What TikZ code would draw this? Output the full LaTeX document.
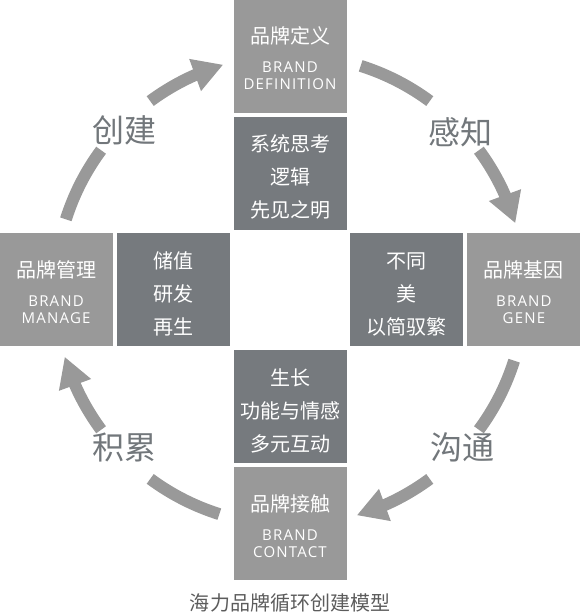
\documentclass[tikz,border=0pt]{standalone}
\usepackage{fontspec}
\newfontfamily\cjk{Noto Sans CJK SC}
\newfontfamily\en[LetterSpace=8]{Open Sans}
\usetikzlibrary{arrows.meta, positioning, bending}
\definecolor{boxlight}{HTML}{999999}
\definecolor{boxdark}{HTML}{767A7E}
\definecolor{flowgray}{HTML}{999999}
\definecolor{labelgray}{HTML}{72777B}
\definecolor{captiongray}{HTML}{5C5C5C}
\newcommand{\entext}[1]{{\en\fontsize{15}{17}\selectfont #1}}
\newcommand{\topstrut}[1]{\rule{0pt}{#1}}

\begin{document}
\begin{tikzpicture}[x=1pt, y=1pt,
  outbox/.style={fill=boxlight, text=white, minimum width=113pt, minimum height=113pt, inner sep=0pt, align=center, font=\cjk\fontsize{20}{17}\selectfont},
  inbox/.style={fill=boxdark, text=white, minimum width=113pt, minimum height=113pt, inner sep=0pt, align=center, font=\cjk\fontsize{20}{33}\selectfont},
  flow/.style={draw=flowgray, line width=12pt},
  flowarr/.style={flow, -{Triangle[length=30pt, width=32pt]}},
  steplabel/.style={text=labelgray, font=\cjk\fontsize{32}{32}\selectfont}]
\useasboundingbox (-290,-322) rectangle (290,290);
\coordinate (mid) at (0,0);
% inner ring
\node[inbox] (think) at (0,116.75) {\topstrut{25pt}系统思考\\逻辑\\先见之明};
\node[inbox] (differ) at (116.75,0) {\topstrut{25pt}不同\\美\\以简驭繁};
\node[inbox] (grow) at (0,-116.75) {\topstrut{25pt}生长\\功能与情感\\多元互动};
\node[inbox] (store) at (-116.75,0) {\topstrut{25pt}储值\\研发\\再生};
% outer ring
\node[outbox, above=3.75pt of think] (define) {\topstrut{21pt}品牌定义\\[12pt]\entext{BRAND}\\\entext{DEFINITION}};
\node[outbox, right=3.75pt of differ] (gene) {\topstrut{21pt}品牌基因\\[12pt]\entext{BRAND}\\\entext{GENE}};
\node[outbox, below=3.75pt of grow] (contact) {\topstrut{21pt}品牌接触\\[12pt]\entext{BRAND}\\\entext{CONTACT}};
\node[outbox, left=3.75pt of store] (manage) {\topstrut{21pt}品牌管理\\[12pt]\entext{BRAND}\\\entext{MANAGE}};
% cycle arrows
\foreach \a/\lx/\ly/\n/\txt in {180/-165/160/build/创建, 90/170/158/sense/感知, 0/172/-157/talk/沟通, -90/-165/-157/gather/积累} {
  \draw[flow] (mid) ++({\a-17.5}:235) arc[start angle=\a-17.5, end angle=\a-36.5, radius=235];
  \node[steplabel] (\n) at (\lx,\ly) {\txt};
  \draw[flowarr] (mid) ++({\a-53.5}:235) arc[start angle=\a-53.5, end angle=\a-73.5, radius=235];
}
\node[text=captiongray, font=\cjk\fontsize{20}{20}\selectfont] (caption) at (0,-313) {海力品牌循环创建模型};
\end{tikzpicture}
\end{document}
